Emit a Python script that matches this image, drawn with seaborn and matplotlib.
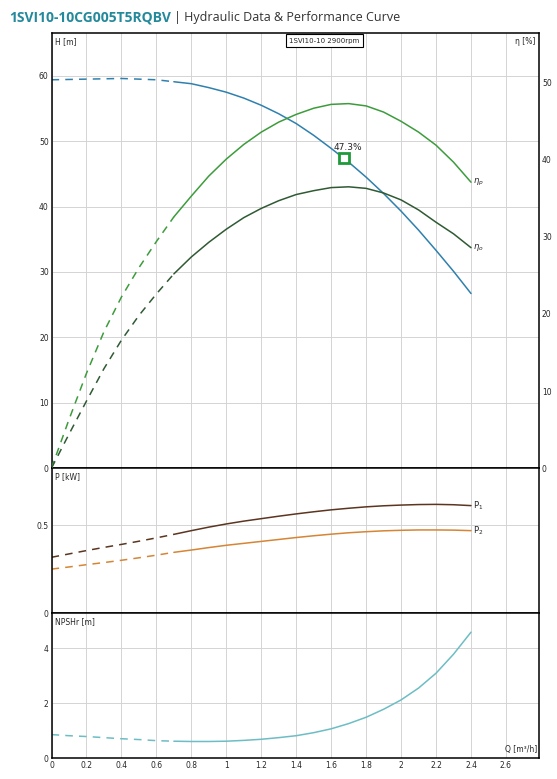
import numpy as np
import pandas as pd
import matplotlib
matplotlib.use("Agg")
import matplotlib.pyplot as plt
import seaborn as sns

# === Curve data ===
q = [0, 0.1, 0.2, 0.3, 0.4, 0.5, 0.6, 0.7, 0.8, 0.9, 1.0, 1.1, 1.2,
     1.3, 1.4, 1.5, 1.6, 1.7, 1.8, 1.9, 2.0, 2.1, 2.2, 2.3, 2.4]
head = [59.4, 59.45, 59.5, 59.55, 59.6, 59.5, 59.4, 59.1, 58.8, 58.2, 57.5, 56.6, 55.5,
        54.2, 52.7, 50.9, 48.9, 46.8, 44.5, 42.0, 39.3, 36.4, 33.3, 30.1, 26.7]
eta_p = [0, 6.3, 12.3, 17.7, 22.2, 26.0, 29.4, 32.6, 35.3, 37.9, 40.1, 42.0, 43.6,
         44.9, 45.9, 46.7, 47.2, 47.3, 47.0, 46.2, 45.0, 43.6, 41.9, 39.7, 37.1]
eta_o = [0, 4.4, 8.7, 12.9, 16.6, 19.8, 22.6, 25.2, 27.4, 29.3, 31.0, 32.5, 33.7,
         34.7, 35.5, 36.0, 36.4, 36.5, 36.3, 35.7, 34.8, 33.5, 31.9, 30.4, 28.6]
p1 = [0.317, 0.336, 0.355, 0.373, 0.39, 0.408, 0.427, 0.447, 0.468, 0.488, 0.506, 0.522, 0.536,
      0.55, 0.563, 0.575, 0.586, 0.595, 0.603, 0.609, 0.613, 0.616, 0.617, 0.615, 0.61]
p2 = [0.25, 0.262, 0.275, 0.287, 0.3, 0.314, 0.329, 0.345, 0.358, 0.372, 0.385, 0.396, 0.407,
      0.418, 0.429, 0.439, 0.448, 0.456, 0.462, 0.467, 0.47, 0.472, 0.472, 0.471, 0.468]
npsh = [0.86, 0.82, 0.79, 0.75, 0.71, 0.68, 0.64, 0.62, 0.61, 0.61, 0.62, 0.65, 0.69,
        0.75, 0.82, 0.93, 1.07, 1.26, 1.49, 1.78, 2.12, 2.55, 3.09, 3.78, 4.58]

q_split = 0.7  # below this the curves are drawn dashed
duty_q, duty_h, duty_eta = 1.676, 47.4, 47.3

x_ticks = [0, 0.2, 0.4, 0.6, 0.8, 1, 1.2, 1.4, 1.6, 1.8, 2, 2.2, 2.4, 2.6]
x_labels = ["0", "0.2", "0.4", "0.6", "0.8", "1", "1.2", "1.4", "1.6", "1.8", "2", "2.2", "2.4", "2.6"]

sns.set_style("white")
plt.rcParams["font.family"] = ["DejaVu Sans"]

c_h = "#2f80ae"
c_etap = "#3c9c3c"
c_etao = "#2f5a33"
c_p1 = "#5b3520"
c_p2 = "#d68535"
c_npsh = "#6dbdc4"
grid_c = "#d4d4d4"
dash = (0, (5, 4))


def draw_curve(ax, v, color):
    df = pd.DataFrame({"q": q, "v": v})
    lo = df[df["q"] <= q_split + 1e-9]
    hi = df[df["q"] >= q_split - 1e-9]
    sns.lineplot(data=lo, x="q", y="v", ax=ax, color=color, lw=1.1, linestyle=dash, sort=False)
    sns.lineplot(data=hi, x="q", y="v", ax=ax, color=color, lw=1.1, sort=False)


fig = plt.figure(figsize=(5.57, 7.79), dpi=100)
gs = fig.add_gridspec(3, 1, height_ratios=[3, 1, 1], hspace=0,
                      left=0.0925, right=0.968, bottom=0.0266, top=0.958)
ax_h = fig.add_subplot(gs[0])
ax_p = fig.add_subplot(gs[1], sharex=ax_h)
ax_n = fig.add_subplot(gs[2], sharex=ax_h)
ax_e = ax_h.twinx()

# --- H / eta panel ---
draw_curve(ax_h, head, c_h)
draw_curve(ax_e, eta_p, c_etap)
draw_curve(ax_e, eta_o, c_etao)
ax_h.set_ylim(0, 66.6)
ax_e.set_ylim(0, 56.5)
ax_h.set_yticks([0, 10, 20, 30, 40, 50, 60])
ax_e.set_yticks([0, 10, 20, 30, 40, 50])
ax_h.plot([duty_q], [duty_h], marker="s", ms=6.5, mfc="white", mec="#1f9a3a", mew=2, zorder=5)
ax_h.text(duty_q + 0.02, duty_h + 0.9, f"{duty_eta}%", fontsize=6.5, ha="center", va="bottom")
ax_e.text(q[-1] + 0.01, eta_p[-1], r"$\eta_p$", fontsize=6, va="center", ha="left")
ax_e.text(q[-1] + 0.01, eta_o[-1], r"$\eta_o$", fontsize=6, va="center", ha="left")
ax_h.text(0.008, 0.99, "H [m]", transform=ax_h.transAxes, fontsize=5.5, va="top")
ax_e.text(0.992, 0.99, "η [%]", transform=ax_e.transAxes, fontsize=5.5, va="top", ha="right")
ax_h.text(0.559, 0.989, "1SVI10-10 2900rpm", transform=ax_h.transAxes, fontsize=5, va="top", ha="center",
          bbox=dict(boxstyle="square,pad=0.5", fc="white", ec="black", lw=0.8))

# --- power panel ---
draw_curve(ax_p, p1, c_p1)
draw_curve(ax_p, p2, c_p2)
ax_p.set_ylim(0, 0.823)
ax_p.set_yticks([0, 0.5])
ax_p.set_yticklabels(["0", "0.5"])
ax_p.text(q[-1] + 0.01, p1[-1], r"P$_1$", fontsize=6, va="center")
ax_p.text(q[-1] + 0.01, p2[-1], r"P$_2$", fontsize=6, va="center")
ax_p.text(0.008, 0.97, "P [kW]", transform=ax_p.transAxes, fontsize=5.5, va="top")

# --- NPSH panel ---
draw_curve(ax_n, npsh, c_npsh)
ax_n.set_ylim(0, 5.27)
ax_n.set_yticks([0, 2, 4])
ax_n.text(0.008, 0.97, "NPSHr [m]", transform=ax_n.transAxes, fontsize=5.5, va="top")
ax_n.text(0.997, 0.03, "Q [m³/h]", transform=ax_n.transAxes, fontsize=5.5, va="bottom", ha="right")

for ax in (ax_h, ax_p, ax_n):
    ax.set_xlim(0, 2.79)
    ax.set_xticks(x_ticks)
    ax.grid(True, color=grid_c, lw=0.7)
    ax.set_axisbelow(True)
    ax.set_xlabel("")
    ax.set_ylabel("")
    ax.tick_params(axis="both", length=0, labelsize=5.5, pad=2)
    for s in ax.spines.values():
        s.set_color("black")
        s.set_linewidth(1.1)
ax_e.set_ylabel("")
ax_e.tick_params(axis="y", length=0, labelsize=5.5, pad=2)
for s in ax_e.spines.values():
    s.set_visible(False)
plt.setp(ax_h.get_xticklabels(), visible=False)
plt.setp(ax_p.get_xticklabels(), visible=False)
ax_n.set_xticklabels(x_labels)

# --- title ---
t1 = fig.text(0.016, 0.978, "1SVI10-10CG005T5RQBV", fontsize=10, fontweight="bold",
              color="#23899b", family="Open Sans", va="center")
fig.canvas.draw()
bb = t1.get_window_extent()
x_next = bb.x1 / fig.bbox.width
fig.text(x_next + 0.005, 0.978, "| Hydraulic Data & Performance Curve", fontsize=9,
         color="#333333", family="Open Sans", va="center")

plt.savefig("out.png", dpi=100)
plt.close()
